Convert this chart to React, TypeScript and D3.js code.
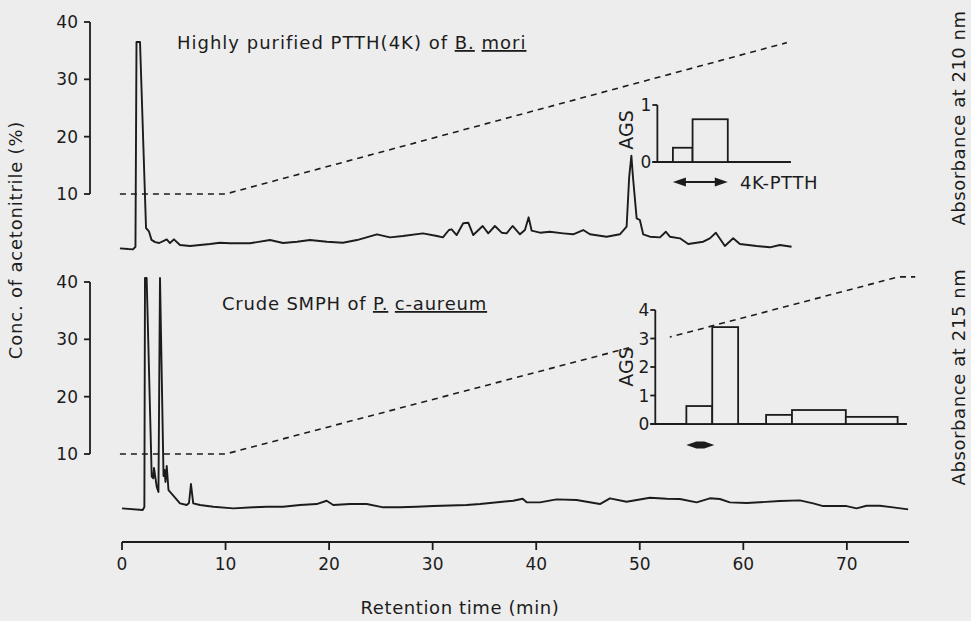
import React, { useEffect, useRef } from "react";
import * as d3 from "d3";

// HPLC elution profiles, PTTH of B. mori (top) and crude SMPH of P. c-aureum (bottom)

const width = 971;
const height = 621;
const ink = "#1c1c1c";
const paper = "#ededed";
const font = "DejaVu Sans, sans-serif";

const xTicks = [0, 10, 20, 30, 40, 50, 60, 70];
const concTicks = [10, 20, 30, 40];

// acetonitrile gradient, [min, %]
const gradientTop = [[-0.2, 10], [10, 10], [64.2, 36.4]];
const gradientBottom = [[-0.2, 10], [10, 10], [75, 40.9], [76.6, 40.9]];

// absorbance traces, [min, signal] (signal given in the same units as the left axis)
const traceTop = [
  [-0.2, 0.52], [0.6, 0.4], [1.06, 0.35], [1.3, 0.8], [1.4, 36.5], [1.74, 36.5],
  [2.32, 4.07], [2.6, 3.5], [2.85, 2.0], [3.2, 1.6], [3.6, 1.45], [4.32, 2.09],
  [4.63, 1.45], [5.02, 2.09], [5.6, 1.1], [6.57, 0.92], [8.5, 1.27], [9.46, 1.5],
  [10.43, 1.4], [12.36, 1.4], [14.29, 1.97], [15.55, 1.45], [16.9, 1.68],
  [18.15, 1.97], [19.79, 1.68], [21.33, 1.5], [22.69, 1.97], [24.62, 2.97],
  [25.88, 2.44], [27.13, 2.67], [29.06, 3.14], [30.41, 2.67], [30.99, 2.44],
  [31.57, 3.72], [31.83, 3.84], [32.32, 2.84], [32.95, 4.89], [33.44, 4.99],
  [33.92, 2.84], [34.83, 4.42], [35.37, 3.14], [36.01, 4.42], [36.66, 3.25],
  [37.14, 3.14], [37.72, 4.42], [38.43, 2.97], [38.91, 3.72], [39.27, 5.93],
  [39.56, 3.6], [40.36, 3.25], [41.32, 3.42], [42.61, 3.14], [43.57, 2.97],
  [44.54, 3.72], [45.19, 2.97], [46.8, 2.55], [48.08, 2.97], [48.73, 4.29],
  [48.98, 13.0], [49.19, 16.7], [49.34, 13.0], [49.7, 5.76], [50.01, 5.46],
  [50.33, 2.97], [50.98, 2.55], [51.95, 2.44], [52.52, 3.42], [52.91, 2.55],
  [53.88, 2.27], [54.68, 1.27], [56.13, 1.68], [56.77, 2.27], [57.35, 3.25],
  [58.22, 0.92], [59.02, 2.27], [59.67, 1.27], [61.28, 0.92], [62.57, 0.7],
  [63.53, 1.1], [64.66, 0.8],
];

const traceBottom = [
  [0.0, 0.52], [2.0, 0.23], [2.16, 0.75], [2.22, 40.7], [2.38, 40.7], [2.87, 6.04],
  [3.02, 5.76], [3.09, 7.56], [3.35, 4.29], [3.52, 3.37], [3.67, 40.7], [4.01, 6.16],
  [4.1, 7.21], [4.2, 5.11], [4.32, 7.91], [4.49, 3.72], [4.83, 3.02], [5.6, 1.4],
  [6.25, 1.1], [6.47, 1.45], [6.66, 4.76], [6.88, 1.4], [7.53, 1.1], [8.82, 0.8],
  [10.75, 0.52], [12.68, 0.7], [13.97, 0.8], [15.55, 0.8], [17.19, 1.1],
  [18.8, 1.27], [19.76, 1.85], [20.4, 1.1], [22.01, 1.27], [23.63, 1.27],
  [25.23, 0.7], [26.84, 0.7], [28.45, 0.8], [30.06, 0.92], [33.28, 1.1],
  [34.57, 1.27], [37.78, 1.85], [38.69, 2.2], [39.08, 1.57], [40.36, 1.57],
  [41.97, 2.09], [43.9, 1.97], [46.15, 1.27], [47.12, 2.27], [48.73, 1.68],
  [50.98, 2.37], [52.59, 2.2], [53.88, 2.15], [55.49, 1.57], [56.77, 2.27],
  [57.74, 2.15], [58.7, 1.57], [60.32, 1.45], [63.53, 1.8], [65.46, 1.92],
  [66.75, 1.4], [67.71, 0.92], [69.97, 0.92], [70.94, 0.52], [71.9, 0.98],
  [73.19, 0.98], [74.47, 0.7], [75.92, 0.35],
];

// AGS activity of fractions, [from min, to min, activity]
const agsTop = [[53.2, 55.1, 0.25], [55.1, 58.5, 0.75]];
const agsBottom = [
  [54.5, 57.0, 0.63], [57.0, 59.5, 3.4], [62.2, 64.7, 0.32],
  [64.7, 69.9, 0.49], [69.9, 74.9, 0.25],
];
const agsTopTicks = [0, 1];
const agsBottomTicks = [0, 1, 2, 3, 4];
const agsTopSpan = [51.7, 64.6];
const agsBottomSpan = [51.5, 75.8];
const activeTop = [53.2, 58.5];
const activeBottom = [54.5, 57.2];

export default function App() {
  const svgRef = useRef<SVGSVGElement>(null);

  useEffect(() => {
    const svg = d3.select(svgRef.current);
    svg.selectAll("*").remove();

    svg.append("rect").attr("width", width).attr("height", height).attr("fill", paper);

    const x = d3.scaleLinear().domain([0, 76]).range([122, 909]);
    const yTop = d3.scaleLinear().domain([10, 40]).range([194, 22]);
    const yBot = d3.scaleLinear().domain([10, 40]).range([454, 282]);

    const txt = (px, py, s, size = 17, anchor = "start", spacing = 0) =>
      svg.append("text")
        .attr("x", px).attr("y", py)
        .attr("font-family", font).attr("font-size", size)
        .attr("letter-spacing", spacing)
        .attr("fill", ink).attr("text-anchor", anchor)
        .text(s);

    const panel = (y, gradient, trace) => {
      const g = svg.append("g");
      // left axis
      g.append("line")
        .attr("x1", 90).attr("x2", 90)
        .attr("y1", y(40)).attr("y2", y(10))
        .attr("stroke", ink).attr("stroke-width", 1.8);
      concTicks.forEach(t => {
        g.append("line")
          .attr("x1", 84).attr("x2", 90)
          .attr("y1", y(t)).attr("y2", y(t))
          .attr("stroke", ink).attr("stroke-width", 1.8);
        g.append("text")
          .attr("x", 78).attr("y", y(t)).attr("dy", "0.36em")
          .attr("text-anchor", "end")
          .attr("font-family", font).attr("font-size", 17).attr("fill", ink)
          .text(t);
      });

      const line = d3.line().x(d => x(d[0])).y(d => y(d[1]));
      g.append("path")
        .attr("d", line(gradient))
        .attr("fill", "none").attr("stroke", ink)
        .attr("stroke-width", 1.6).attr("stroke-dasharray", "6,5");
      g.append("path")
        .attr("d", line(trace))
        .attr("fill", "none").attr("stroke", ink)
        .attr("stroke-width", 1.9).attr("stroke-linejoin", "round");
    };

    panel(yTop, gradientTop, traceTop);
    panel(yBot, gradientBottom, traceBottom);

    // bottom x axis
    const xAxis = svg.append("g");
    xAxis.append("line")
      .attr("x1", x(0)).attr("x2", x(76))
      .attr("y1", 542).attr("y2", 542)
      .attr("stroke", ink).attr("stroke-width", 1.8);
    xTicks.forEach(t => {
      xAxis.append("line")
        .attr("x1", x(t)).attr("x2", x(t))
        .attr("y1", 542).attr("y2", 550)
        .attr("stroke", ink).attr("stroke-width", 1.8);
      xAxis.append("text")
        .attr("x", x(t)).attr("y", 570)
        .attr("text-anchor", "middle")
        .attr("font-family", font).attr("font-size", 17).attr("fill", ink)
        .text(t);
    });

    // insets with AGS activity
    const inset = (span, ys, ticks, bins, labelX, labelY, mask) => {
      const g = svg.append("g");
      if (mask) {
        g.append("rect")
          .attr("x", x(49.0)).attr("y", ys(ticks[ticks.length - 1]) - 10)
          .attr("width", x(52.9) - x(49.0))
          .attr("height", ys(0) - ys(ticks[ticks.length - 1]) + 20)
          .attr("fill", paper);
      }
      const x0 = x(span[0]);
      g.append("line")
        .attr("x1", x0).attr("x2", x0)
        .attr("y1", ys(ticks[ticks.length - 1])).attr("y2", ys(0))
        .attr("stroke", ink).attr("stroke-width", 1.8);
      g.append("line")
        .attr("x1", x0 - 5).attr("x2", x(span[1]))
        .attr("y1", ys(0)).attr("y2", ys(0))
        .attr("stroke", ink).attr("stroke-width", 1.8);
      ticks.forEach(t => {
        g.append("line")
          .attr("x1", x0 - 5).attr("x2", x0)
          .attr("y1", ys(t)).attr("y2", ys(t))
          .attr("stroke", ink).attr("stroke-width", 1.8);
        g.append("text")
          .attr("x", x0 - 6).attr("y", ys(t)).attr("dy", "0.36em")
          .attr("text-anchor", "end")
          .attr("font-family", font).attr("font-size", 17).attr("fill", ink)
          .text(t);
      });
      g.selectAll("rect.bin")
        .data(bins)
        .join("rect")
        .attr("class", "bin")
        .attr("x", d => x(d[0]))
        .attr("width", d => x(d[1]) - x(d[0]))
        .attr("y", d => ys(d[2]))
        .attr("height", d => ys(0) - ys(d[2]))
        .attr("fill", paper).attr("stroke", ink).attr("stroke-width", 1.8);
      g.append("text")
        .attr("transform", `translate(${labelX},${labelY}) rotate(-90)`)
        .attr("text-anchor", "middle").attr("dy", "0.36em")
        .attr("font-family", font).attr("font-size", 19).attr("fill", ink)
        .text("AGS");
    };

    inset(agsTopSpan, d3.scaleLinear().domain([0, 1]).range([162, 105]),
      agsTopTicks, agsTop, 626, 130, false);
    inset(agsBottomSpan, d3.scaleLinear().domain([0, 4]).range([424, 310]),
      agsBottomTicks, agsBottom, 626, 367, true);

    // active fraction markers
    const ax1 = x(activeTop[0]);
    const ax2 = x(activeTop[1]);
    const ay = 182;
    svg.append("line")
      .attr("x1", ax1 + 8).attr("x2", ax2 - 8)
      .attr("y1", ay).attr("y2", ay)
      .attr("stroke", ink).attr("stroke-width", 1.8);
    svg.append("path")
      .attr("d", `M${ax1},${ay} L${ax1 + 13},${ay - 4.5} L${ax1 + 13},${ay + 4.5} Z M${ax2},${ay} L${ax2 - 13},${ay - 4.5} L${ax2 - 13},${ay + 4.5} Z`)
      .attr("fill", ink);
    txt(740, ay + 7, "4K-PTTH", 18, "start", 0.6);

    const bx1 = x(activeBottom[0]);
    const bx2 = x(activeBottom[1]);
    const by = 445;
    svg.append("path")
      .attr("d", `M${bx1},${by} L${bx1 + 10},${by - 3.5} L${bx2 - 10},${by - 3.5} L${bx2},${by} L${bx2 - 10},${by + 3.5} L${bx1 + 10},${by + 3.5} Z`)
      .attr("fill", ink);

    // panel titles
    const t1 = txt(177, 49, "Highly purified PTTH(4K) of ", 18, "start", 1);
    t1.append("tspan").attr("text-decoration", "underline").text("B.");
    t1.append("tspan").text(" ");
    t1.append("tspan").attr("text-decoration", "underline").text("mori");

    const t2 = txt(222, 310, "Crude SMPH of ", 18, "start", 0.8);
    t2.append("tspan").attr("text-decoration", "underline").text("P.");
    t2.append("tspan").text(" ");
    t2.append("tspan").attr("text-decoration", "underline").text("c-aureum");

    // axis titles
    txt(460, 614, "Retention time (min)", 18, "middle", 0.6);
    const rot = (px, py, s, spacing) =>
      svg.append("text")
        .attr("transform", `translate(${px},${py}) rotate(-90)`)
        .attr("text-anchor", "middle").attr("dy", "0.36em")
        .attr("font-family", font).attr("font-size", 18)
        .attr("letter-spacing", spacing).attr("fill", ink)
        .text(s);
    rot(16, 240, "Conc. of acetonitrile (%)", 0.8);
    rot(959, 118, "Absorbance at 210 nm", 0.5);
    rot(959, 377, "Absorbance at 215 nm", 0.6);
  }, []);

  return (
    <svg
      ref={svgRef}
      width={width}
      height={height}
      style={{ position: "absolute", left: 0, top: 0 }}
    />
  );
}
